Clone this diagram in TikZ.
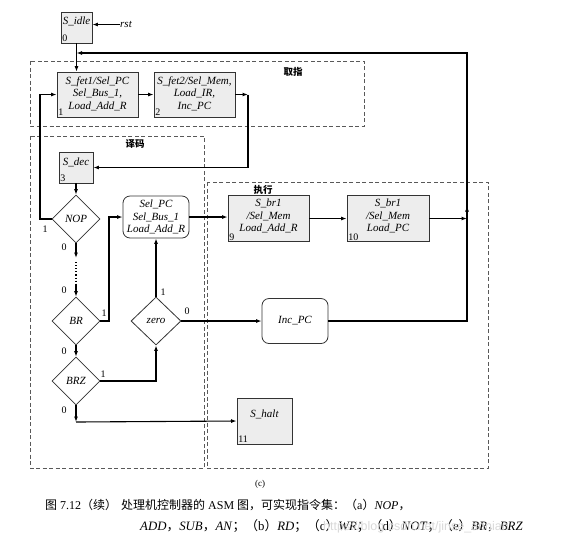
\documentclass[tikz,border=0pt]{standalone}
\usepackage{fontspec}
\setmainfont{Liberation Serif}
\newfontfamily\cjk{Noto Sans CJK SC}
\newfontfamily\wmfont{Liberation Sans}
\usetikzlibrary{shapes.geometric,arrows.meta}
\begin{document}
\begin{tikzpicture}[x=1pt,y=-1pt,
  state/.style={draw=black!80, fill=black!7, line width=0.8pt, inner sep=0pt},
  rbox/.style={draw=black!80, fill=white, line width=0.8pt, rounded corners=7pt, inner sep=0pt, align=center, font=\itshape\fontsize{11}{12.5}\selectfont},
  txt/.style={inner sep=0pt, align=center, font=\itshape\fontsize{11}{12.5}\selectfont},
  cond/.style={draw=black!80, fill=white, line width=0.8pt, diamond, inner sep=0pt, minimum width=48pt, minimum height=48pt, font=\itshape\fontsize{11}{12.5}\selectfont},
  num/.style={anchor=south west, inner sep=1.5pt, font=\fontsize{10}{11}\selectfont},
  lab/.style={inner sep=0pt, font=\fontsize{10}{11}\selectfont},
  frame/.style={draw=black!65, dash pattern=on 4pt off 2.5pt, line width=0.8pt},
  zone/.style={inner sep=0pt, font=\cjk\bfseries\fontsize{9.5}{11}\selectfont},
  arr/.style={-{Latex[length=5.5pt,width=4pt]}, line width=1.1pt},
  ln/.style={line width=1.1pt}
]
\useasboundingbox (0,0) rectangle (567,550);

% dashed zones
\draw[frame] (30,61) rectangle (364,126);
\draw[frame] (30,136) rectangle (204,468);
\draw[frame] (207,182) rectangle (488,468);
\node[zone] (z1) at (293,72) {取指};
\node[zone] (z2) at (135,144) {译码};
\node[zone] (z3) at (263,189.5) {执行};

% states
\node[state, minimum width=31pt, minimum height=31pt] (idle) at (76.5,27.5) {};
\node[txt] (idlet) at (76.5,21) {S\_idle};
\node[num] (idlen) at (idle.south west) {0};
\node[txt, anchor=west] (rst) at (120,24.5) {rst};

\node[state, minimum width=81pt, minimum height=45pt] (fet1) at (97.5,94.5) {};
\node[txt] (fet1t) at (97.5,93.5) {S\_fet1/Sel\_PC\\Sel\_Bus\_1,\\Load\_Add\_R};
\node[num] (fet1n) at (fet1.south west) {1};

\node[state, minimum width=81pt, minimum height=45pt] (fet2) at (194.5,94.5) {};
\node[txt] (fet2t) at (194.5,93.5) {S\_fet2/Sel\_Mem,\\Load\_IR,\\Inc\_PC};
\node[num] (fet2n) at (fet2.south west) {2};

\node[state, minimum width=34pt, minimum height=31pt] (dec) at (76,167.5) {};
\node[txt] (dect) at (76,162) {S\_dec};
\node[num] (decn) at (dec.south west) {3};

\node[cond] (nop) at (76,219) {NOP};
\node[cond] (br) at (76,321) {BR};
\node[cond] (brz) at (76,381) {BRZ};
\node[cond, minimum width=50pt] (zero) at (156,321) {zero};

\node[rbox, minimum width=66pt, minimum height=42pt] (rb1) at (156,217) {Sel\_PC\\Sel\_Bus\_1\\Load\_Add\_R};

\node[state, minimum width=81pt, minimum height=46pt] (br9) at (268.5,218.5) {};
\node[txt] (br9t) at (268.5,216) {S\_br1\\/Sel\_Mem\\Load\_Add\_R};
\node[num] (br9n) at (br9.south west) {9};

\node[state, minimum width=82pt, minimum height=46pt] (br10) at (388,218.5) {};
\node[txt] (br10t) at (388,216) {S\_br1\\/Sel\_Mem\\Load\_PC};
\node[num] (br10n) at (br10.south west) {10};

\node[rbox, minimum width=66pt, minimum height=45pt] (incpc) at (295,321) {Inc\_PC};

\node[state, minimum width=55pt, minimum height=46pt] (halt) at (264.5,421) {};
\node[txt] (haltt) at (264.5,414) {S\_halt};
\node[num] (haltn) at (halt.south west) {11};

% coordinates
\coordinate (rc) at (467,321);
\coordinate (tr) at (467,53);
\coordinate (tl) at (76.5,53);
\coordinate (ua) at (467,206);
\coordinate (c2) at (248,94.5);
\coordinate (c4) at (40,94.5);
\coordinate (c5) at (109,217);
\coordinate (d1) at (76,258);
\coordinate (d2) at (76,262);
\coordinate (d3) at (76,284);
\coordinate (c6) at (76,422);

% connectors
\draw[arr] (rst.west) -- (rst.west -| idle.east);
\draw[arr] (idle.south) -- (idle.south |- fet1.north);
\draw[arr] (incpc.east) -- (rc) -- (tr) -- (tl);
\draw[arr] (rc) -- (ua);
\draw[arr] (br10.east) -- (br10.east -| rc);
\draw[arr] (fet1.east) -- (fet2.west);
\draw[arr] (fet2.east) -- (c2);
\draw[arr] (c2) |- (dec.east);
\draw[arr] (nop.west) -| (c4) -- (fet1.west);
\draw[arr] (dec.south) -- (nop.north);
\draw[arr] (nop.south) -- (d1);
\draw[ln, dotted] (d2) -- (d3);
\draw[arr] (d3) -- (br.north);
\draw[arr] (br.east) -| (c5) -- (rb1.west);
\draw[arr] (rb1.east) -- (rb1.east -| br9.west);
\draw[arr] (br9.east) -- (br10.west);
\draw[arr] (zero.north) -- (rb1.south);
\draw[arr] (zero.east) -- (incpc.west);
\draw[arr] (br.south) -- (brz.north);
\draw[arr] (brz.east) -| (zero.south);
\draw[arr] (brz.south) -- (c6);
\draw[arr] (c6) -- (halt.west);

% branch labels
\node[lab] (l1) at (45,229) {1};
\node[lab] (l2) at (64,247) {0};
\node[lab] (l3) at (64,290) {0};
\node[lab] (l4) at (104,313) {1};
\node[lab] (l5) at (64,351) {0};
\node[lab] (l6) at (163,292) {1};
\node[lab] (l7) at (187,311) {0};
\node[lab] (l8) at (103,374) {1};
\node[lab] (l9) at (64,410) {0};

% caption
\node[inner sep=0pt, font=\fontsize{9}{10}\selectfont] (cc) at (260,484) {(c)};
\node[anchor=west, inner sep=0pt, font=\fontsize{12}{14}\selectfont] (cap1) at (45,505) {{\cjk 图} 7.12{\cjk （续）}\hspace{4pt}{\cjk 处理机控制器的} ASM {\cjk 图，可实现指令集：}{\cjk （}a{\cjk ）}\textit{NOP}{\cjk ，}};
\node[anchor=west, inner sep=0pt, font=\fontsize{12.8}{14}\selectfont] (cap2) at (140,526) {\textit{ADD}{\cjk ，}\textit{SUB}{\cjk ，}\textit{AN}{\cjk ；（}b{\cjk ）}\textit{RD}{\cjk ；（}c{\cjk ）}\textit{WR}{\cjk ；（}d{\cjk ）}\textit{NOT}{\cjk ；（}e{\cjk ）}\textit{BR}{\cjk ，}\textit{BRZ}};
\node[anchor=west, inner sep=0pt, text=black!15, font=\wmfont\fontsize{12.5}{14}\selectfont] (wm) at (323,527) {https://blog.csdn.net/jinse\_annian};
\end{tikzpicture}
\end{document}
